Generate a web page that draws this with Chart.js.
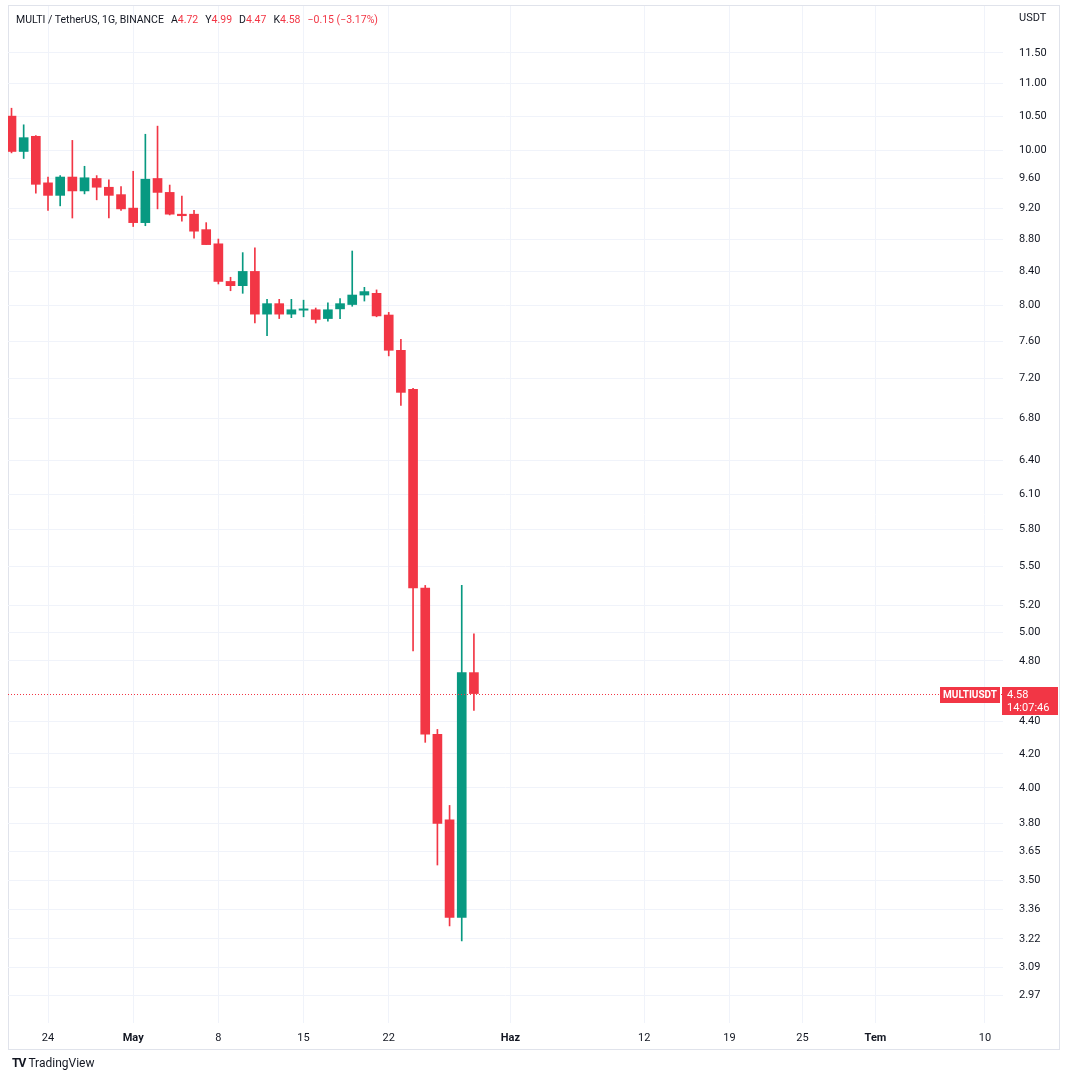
<!DOCTYPE html>
<html lang="tr">
<head>
  <meta charset="UTF-8">
  <title>MULTI / TetherUS</title>
  <script src="https://cdn.jsdelivr.net/npm/chart.js"></script>
  <style>
    body { margin: 0; background: #fff; font-family: Roboto, Arial, sans-serif; }
    #wrap { position: relative; width: 1068px; height: 1080px; }
    #header { position: absolute; left: 16px; top: 13px; font-size: 10.5px; color: #131722; white-space: nowrap; }
    #header .v { color: #f23645; }
    #header .k { margin-left: 7px; }
    #logo { position: absolute; left: 12px; top: 1056px; font-size: 12px; color: #131722; }
    #logo b { font-size: 12px; letter-spacing: -1px; margin-right: 3px; }
  </style>
</head>
<body>
  <div id="wrap">
    <canvas id="chart" width="1068" height="1080"></canvas>
    <div id="header">MULTI / TetherUS, 1G, BINANCE<span class="k">A</span><span class="v">4.72</span><span class="k">Y</span><span class="v">4.99</span><span class="k">D</span><span class="v">4.47</span><span class="k">K</span><span class="v">4.58</span><span class="k v">&minus;0.15 (&minus;3.17%)</span></div>
    <div id="logo"><b>TV</b>TradingView</div>
  </div>

  <script>
    // daily candles, MULTI/USDT
    const dates = [
      '2023-04-21', '2023-04-22', '2023-04-23', '2023-04-24', '2023-04-25', '2023-04-26', '2023-04-27',
      '2023-04-28', '2023-04-29', '2023-04-30', '2023-05-01', '2023-05-02', '2023-05-03', '2023-05-04',
      '2023-05-05', '2023-05-06', '2023-05-07', '2023-05-08', '2023-05-09', '2023-05-10', '2023-05-11',
      '2023-05-12', '2023-05-13', '2023-05-14', '2023-05-15', '2023-05-16', '2023-05-17', '2023-05-18',
      '2023-05-19', '2023-05-20', '2023-05-21', '2023-05-22', '2023-05-23', '2023-05-24', '2023-05-25',
      '2023-05-26', '2023-05-27', '2023-05-28', '2023-05-29'
    ];
    const opens = [
      10.50, 9.98, 10.20, 9.54, 9.37, 9.62, 9.43, 9.60, 9.48, 9.38, 9.20, 9.01, 9.60, 9.41,
      9.12, 9.12, 8.92, 8.74, 8.28, 8.23, 8.40, 7.90, 8.02, 7.90, 7.945, 7.95, 7.85, 7.96,
      8.01, 8.12, 8.14, 7.89, 7.50, 7.09, 5.33, 4.32, 3.82, 3.32, 4.72
    ];
    const highs = [
      10.62, 10.37, 10.21, 9.62, 9.64, 10.14, 9.77, 9.64, 9.58, 9.49, 9.70, 10.23, 10.35, 9.51,
      9.36, 9.17, 9.01, 8.80, 8.33, 8.63, 8.69, 8.07, 8.07, 8.07, 8.06, 7.97, 8.03, 8.08,
      8.65, 8.21, 8.18, 7.92, 7.62, 7.10, 5.35, 4.35, 3.90, 5.35, 4.99
    ];
    const lows = [
      9.96, 9.88, 9.40, 9.17, 9.23, 9.07, 9.39, 9.31, 9.07, 9.17, 8.96, 8.97, 9.19, 9.11,
      9.03, 8.81, 8.73, 8.25, 8.17, 8.14, 7.80, 7.66, 7.85, 7.86, 7.87, 7.80, 7.82, 7.85,
      7.99, 8.05, 7.87, 7.44, 6.93, 4.87, 4.27, 3.58, 3.28, 3.21, 4.47
    ];
    const closes = [
      9.98, 10.18, 9.52, 9.37, 9.62, 9.43, 9.61, 9.48, 9.37, 9.19, 9.01, 9.59, 9.41, 9.12,
      9.10, 8.90, 8.73, 8.28, 8.23, 8.40, 7.90, 8.02, 7.90, 7.95, 7.96, 7.84, 7.95, 8.02,
      8.12, 8.16, 7.88, 7.50, 7.06, 5.33, 4.32, 3.80, 3.32, 4.72, 4.58
    ];
    const lastPrice = 4.58;
    const countdown = '14:07:46';

    // price scale ticks and time scale ticks (days since first candle)
    const yTicks = [11.5, 11, 10.5, 10, 9.6, 9.2, 8.8, 8.4, 8, 7.6, 7.2, 6.8, 6.4, 6.1, 5.8, 5.5,
                    5.2, 5.0, 4.8, 4.4, 4.2, 4.0, 3.8, 3.65, 3.5, 3.36, 3.22, 3.09, 2.97];
    const xTickDays = [3, 10, 17, 24, 31, 41, 52, 59, 65, 71, 80];
    const xTickLabels = ['24', 'May', '8', '15', '22', 'Haz', '12', '19', '25', 'Tem', '10'];
    const monthLabels = ['May', 'Haz', 'Tem'];

    const UP = '#089981';
    const DOWN = '#f23645';
    const TEXT = '#131722';
    const GRID = '#f0f3fa';

    const day0 = Date.parse(dates[0]);
    const days = dates.map(d => Math.round((Date.parse(d) - day0) / 864e5));
    const colors = opens.map((o, i) => closes[i] >= o ? UP : DOWN);

    const bodies = days.map((x, i) => ({ x: x, y: [opens[i], closes[i]] }));
    const wicks = days.map((x, i) => ({ x: x, y: [lows[i], highs[i]] }));

    const overlay = {
      id: 'overlay',
      beforeDraw(chart) {
        const ctx = chart.ctx;
        ctx.save();
        ctx.strokeStyle = '#e0e3eb';
        ctx.lineWidth = 1;
        ctx.strokeRect(8.5, 5.5, 1051, 1044);
        ctx.restore();
      },
      afterDraw(chart) {
        const ctx = chart.ctx;
        const area = chart.chartArea;
        const py = Math.round(chart.scales.y.getPixelForValue(lastPrice)) + 0.5;
        ctx.save();
        // last price line
        ctx.strokeStyle = DOWN;
        ctx.lineWidth = 1;
        ctx.setLineDash([1, 2]);
        ctx.beginPath();
        ctx.moveTo(area.left, py);
        ctx.lineTo(area.right, py);
        ctx.stroke();
        ctx.setLineDash([]);

        // symbol tag
        ctx.fillStyle = DOWN;
        ctx.fillRect(940, py - 7.5, 60, 16);
        ctx.fillStyle = '#fff';
        ctx.font = 'bold 10px Roboto, Arial, sans-serif';
        ctx.textBaseline = 'middle';
        ctx.textAlign = 'center';
        ctx.fillText('MULTIUSDT', 970, py + 0.5);

        // price + countdown tag on the scale
        ctx.fillStyle = DOWN;
        ctx.fillRect(1002, py - 7.5, 56, 28);
        ctx.fillStyle = '#fff';
        ctx.textAlign = 'left';
        ctx.font = '11px Roboto, Arial, sans-serif';
        ctx.fillText(lastPrice.toFixed(2), 1007, py + 0.5);
        ctx.fillText(countdown, 1007, py + 13.5);

        ctx.fillStyle = TEXT;
        ctx.fillText('USDT', 1019, 18);
        ctx.restore();
      }
    };

    new Chart(document.getElementById('chart'), {
      type: 'bar',
      data: {
        datasets: [
          {
            data: wicks,
            backgroundColor: colors,
            barThickness: 1,
            grouped: false,
            order: 2
          },
          {
            data: bodies,
            backgroundColor: colors,
            barThickness: 9,
            minBarLength: 1,
            grouped: false,
            order: 1
          }
        ]
      },
      options: {
        responsive: false,
        animation: false,
        events: [],
        layout: { padding: { left: 8, top: 6, right: 9, bottom: 30 } },
        plugins: { legend: { display: false }, tooltip: { enabled: false } },
        scales: {
          x: {
            type: 'linear',
            min: -0.288,
            max: 81.48,
            offset: false,
            afterBuildTicks: s => { s.ticks = xTickDays.map(v => ({ value: v })); },
            afterFit: s => { s.height = 27; s.paddingLeft = 0; s.paddingRight = 0; },
            grid: { color: GRID, drawTicks: false, offset: false },
            border: { display: false },
            ticks: {
              padding: 9,
              maxRotation: 0,
              autoSkip: false,
              color: TEXT,
              font: c => ({
                size: 11,
                family: 'Roboto, Arial, sans-serif',
                weight: c.tick && monthLabels.includes(xTickLabels[xTickDays.indexOf(c.tick.value)]) ? 'bold' : 'normal'
              }),
              callback: v => xTickLabels[xTickDays.indexOf(v)]
            }
          },
          y: {
            type: 'logarithmic',
            position: 'right',
            min: 2.853,
            max: 12.30,
            afterBuildTicks: s => { s.ticks = yTicks.map(v => ({ value: v })); },
            afterFit: s => { s.width = 56; s.paddingTop = 0; s.paddingBottom = 0; },
            grid: { color: GRID, drawTicks: false },
            border: { display: false },
            ticks: {
              padding: 16,
              autoSkip: false,
              color: TEXT,
              font: { size: 11, family: 'Roboto, Arial, sans-serif' },
              callback: v => Number(v).toFixed(2)
            }
          }
        }
      },
      plugins: [overlay]
    });
  </script>
</body>
</html>
